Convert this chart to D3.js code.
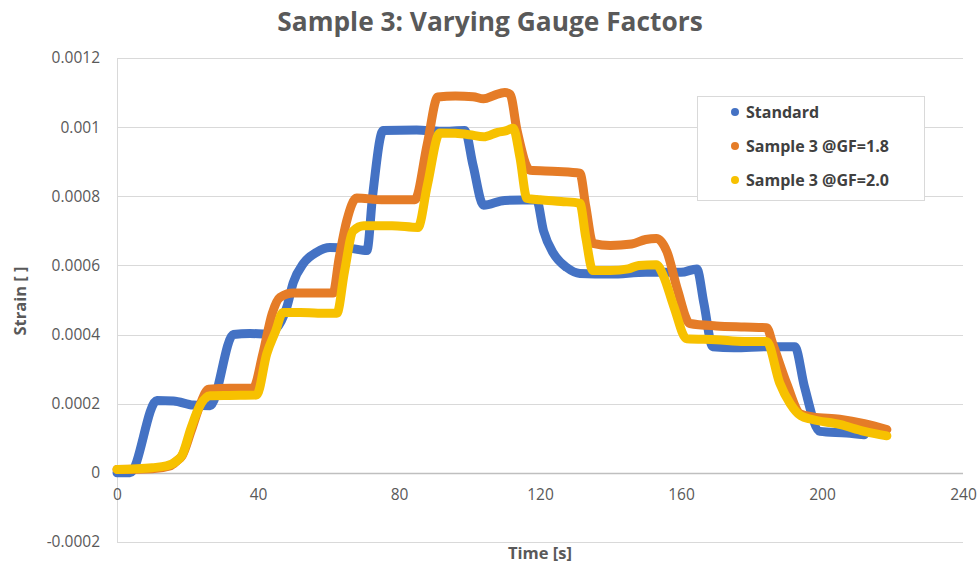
<!DOCTYPE html>
<html>
<head>
<meta charset="utf-8">
<script src="https://cdn.jsdelivr.net/npm/d3@7"></script>
<style>
    body { margin: 0; background: #fff; }
    #chart { width: 980px; height: 571px; }
    text { font-family: "Open Sans", "Noto Sans", sans-serif; }
</style>
</head>
<body>
<div id="chart"></div>
<script>
// values, [time s, strain]
const standard = [
    [0, 0], [3.7, 0], [11.3, 2.09e-4], [16, 2.08e-4], [21.6, 1.96e-4], [26.4, 1.94e-4],
    [33, 4.0e-4], [37.7, 4.03e-4], [42.5, 4.02e-4], [45, 4.15e-4], [48.2, 4.8e-4],
    [50, 5.5e-4], [52.9, 6.06e-4], [56.6, 6.38e-4], [60.4, 6.52e-4], [66, 6.5e-4],
    [70.9, 6.43e-4], [72.5, 8.0e-4], [75.5, 9.9e-4], [85, 9.92e-4], [92, 9.88e-4],
    [98.7, 9.9e-4], [101, 8.9e-4], [104, 7.74e-4], [110, 7.88e-4], [119, 7.9e-4],
    [121, 7.0e-4], [123.8, 6.35e-4], [127.6, 5.94e-4], [131.3, 5.77e-4], [140, 5.75e-4],
    [150, 5.8e-4], [160, 5.8e-4], [164.5, 5.9e-4], [166.5, 4.9e-4], [169, 3.65e-4],
    [175, 3.62e-4], [185, 3.65e-4], [192.3, 3.65e-4], [195, 2.5e-4], [199.4, 1.2e-4],
    [207, 1.15e-4], [212, 1.1e-4]
];
const gf18 = [
    [0, 0.1e-4], [10, 0.12e-4], [15, 0.2e-4], [17, 0.35e-4], [18.5, 0.5e-4], [21, 1.2e-4],
    [23.5, 1.95e-4], [26, 2.42e-4], [32, 2.45e-4], [38.6, 2.45e-4], [41.4, 3.45e-4],
    [44, 4.6e-4], [46.2, 5.07e-4], [50, 5.2e-4], [55, 5.2e-4], [61.3, 5.2e-4],
    [63, 6.2e-4], [65.2, 7.3e-4], [68, 7.95e-4], [75, 7.9e-4], [84.5, 7.9e-4],
    [88, 9.5e-4], [91, 10.87e-4], [96, 10.9e-4], [101, 10.88e-4], [104, 10.82e-4],
    [107, 10.92e-4], [110, 11.0e-4], [111.5, 10.95e-4], [113.5, 9.9e-4], [117.2, 8.75e-4],
    [125, 8.72e-4], [131.3, 8.67e-4], [133, 7.7e-4], [135, 6.64e-4], [140, 6.58e-4],
    [146, 6.62e-4], [150, 6.75e-4], [153, 6.78e-4], [156, 6.4e-4], [159, 5.3e-4],
    [162.5, 4.32e-4], [170, 4.25e-4], [178, 4.22e-4], [184.3, 4.2e-4], [186, 3.74e-4],
    [190, 2.58e-4], [193.8, 1.71e-4], [197.4, 1.62e-4], [205, 1.55e-4], [212, 1.42e-4],
    [218.4, 1.25e-4]
];
const gf20 = [
    [0, 0.1e-4], [10, 0.15e-4], [14, 0.2e-4], [17, 0.35e-4], [18.4, 0.5e-4], [21, 1.3e-4],
    [23.5, 1.94e-4], [26.4, 2.23e-4], [32, 2.24e-4], [39.6, 2.25e-4], [42.5, 3.45e-4],
    [45, 4.1e-4], [47.1, 4.64e-4], [52, 4.64e-4], [57, 4.62e-4], [62.4, 4.62e-4],
    [64.5, 5.8e-4], [67, 7.0e-4], [70, 7.15e-4], [78, 7.15e-4], [85.4, 7.1e-4],
    [88, 8.3e-4], [91.6, 9.83e-4], [96, 9.82e-4], [100, 9.78e-4], [104, 9.72e-4],
    [108, 9.85e-4], [110.5, 9.9e-4], [112.4, 9.97e-4], [114.3, 9.13e-4], [116.3, 7.94e-4],
    [120, 7.9e-4], [126, 7.85e-4], [131.3, 7.8e-4], [133, 6.8e-4], [135, 5.85e-4],
    [140, 5.85e-4], [145, 5.9e-4], [148, 6.0e-4], [153, 6.02e-4], [155, 5.7e-4],
    [158, 4.8e-4], [161.6, 3.88e-4], [170, 3.85e-4], [178, 3.8e-4], [184.3, 3.8e-4],
    [188, 2.6e-4], [191, 2.0e-4], [194, 1.65e-4], [197, 1.55e-4], [205, 1.4e-4],
    [212, 1.2e-4], [218.4, 1.07e-4]
];

const seriesNames = ["Standard", "Sample 3 @GF=1.8", "Sample 3 @GF=2.0"];
const seriesColors = ["#4472C4", "#E57C27", "#F7C100"];
const xTicks = [0, 40, 80, 120, 160, 200, 240];
const yTicks = [-0.0002, 0, 0.0002, 0.0004, 0.0006, 0.0008, 0.001, 0.0012];

const W = 980, H = 571;
const MARGIN = { left: 117, right: 17, top: 58, bottom: 29 };
const width = W - MARGIN.left - MARGIN.right;
const height = H - MARGIN.top - MARGIN.bottom;

const svg = d3.select("#chart").append("svg")
    .attr("width", W)
    .attr("height", H);

const g = svg.append("g")
    .attr("transform", `translate(${MARGIN.left}, ${MARGIN.top})`);

const x = d3.scaleLinear().domain([0, 240]).range([0, width]);
const y = d3.scaleLinear().domain([-0.0002, 0.0012]).range([height, 0]);

// horizontal gridlines
g.append("g")
    .selectAll("line")
    .data(yTicks)
    .join("line")
    .attr("x1", 0)
    .attr("x2", width)
    .attr("y1", d => Math.round(y(d)) + 0.5)
    .attr("y2", d => Math.round(y(d)) + 0.5)
    .attr("stroke", "#d9d9d9")
    .attr("stroke-width", 1);

// left axis line
g.append("line")
    .attr("x1", 0.5).attr("x2", 0.5)
    .attr("y1", 0).attr("y2", height)
    .attr("stroke", "#d9d9d9");

// x axis through zero
g.append("line")
    .attr("x1", 0).attr("x2", width)
    .attr("y1", Math.round(y(0)) + 0.5).attr("y2", Math.round(y(0)) + 0.5)
    .attr("stroke", "#bfbfbf")
    .attr("stroke-width", 1.5);

// y tick labels (plain hyphen for the negative one, like Excel)
const yAxis = g.append("g")
    .call(d3.axisLeft(y).tickValues(yTicks).tickSize(0).tickPadding(17)
        .tickFormat(d => String(+d.toFixed(4))));
yAxis.select(".domain").remove();
yAxis.selectAll("text")
    .attr("fill", "#595959")
    .style("font-size", "15.5px");

// x tick labels sit under the zero line
const xAxis = g.append("g")
    .attr("transform", `translate(0, ${y(0)})`)
    .call(d3.axisBottom(x).tickValues(xTicks).tickSize(0).tickPadding(16));
xAxis.select(".domain").remove();
xAxis.selectAll("text")
    .attr("fill", "#595959")
    .style("font-size", "15.5px");

const line = d3.line()
    .x(d => x(d[0]))
    .y(d => y(d[1]))
    .curve(d3.curveMonotoneX);

[standard, gf18, gf20].forEach((data, i) => {
    g.append("path")
        .datum(data)
        .attr("d", line)
        .attr("fill", "none")
        .attr("stroke", seriesColors[i])
        .attr("stroke-width", 9)
        .attr("stroke-linejoin", "round")
        .attr("stroke-linecap", "round");
});

// title
svg.append("text")
    .attr("x", 490)
    .attr("y", 31)
    .style("text-anchor", "middle")
    .style("font-size", "26.3px")
    .style("font-weight", "bold")
    .attr("fill", "#595959")
    .text("Sample 3: Varying Gauge Factors");

svg.append("text")
    .attr("x", MARGIN.left + width / 2)
    .attr("y", 559)
    .style("text-anchor", "middle")
    .style("font-size", "16.5px")
    .style("font-weight", "bold")
    .attr("fill", "#595959")
    .text("Time [s]");

svg.append("text")
    .attr("transform", "rotate(-90)")
    .attr("x", -301)
    .attr("y", 26)
    .style("text-anchor", "middle")
    .style("font-size", "16.5px")
    .style("font-weight", "bold")
    .attr("fill", "#595959")
    .text("Strain [ ]");

// legend
const legend = svg.append("g").attr("transform", "translate(697, 96)");
legend.append("rect")
    .attr("x", 0.5).attr("y", 0.5)
    .attr("width", 227).attr("height", 104)
    .attr("fill", "#fff")
    .attr("stroke", "#d9d9d9");

const items = legend.selectAll("g.item")
    .data(seriesNames)
    .join("g")
    .attr("class", "item")
    .attr("transform", (d, i) => `translate(0, ${16 + i * 34})`);

items.append("circle")
    .attr("cx", 38)
    .attr("cy", 0)
    .attr("r", 4)
    .attr("fill", (d, i) => seriesColors[i]);

items.append("text")
    .attr("x", 49)
    .attr("y", 5.5)
    .style("font-size", "16px")
    .style("font-weight", "bold")
    .attr("fill", "#404040")
    .text(d => d);
</script>
</body>
</html>
